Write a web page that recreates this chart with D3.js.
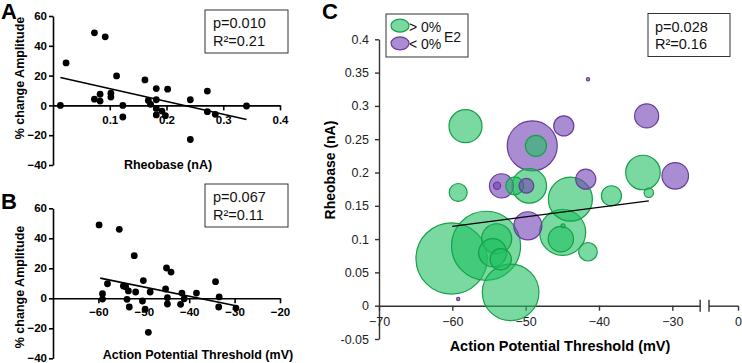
<!DOCTYPE html>
<html>
<head>
<meta charset="utf-8">
<script src="https://cdn.jsdelivr.net/npm/d3@7"></script>
<style>
body { margin: 0; background: #fff; }
svg { font-family: "Liberation Sans", Arial, sans-serif; }
.ab .tick text { font-weight: bold; font-size: 11.5px; fill: #000; }
.ab path, .ab line { stroke: #000; stroke-width: 1.6px; }
.cax .tick text { font-size: 12.5px; fill: #222; }
.cax path, .cax line { stroke: #333; stroke-width: 1.4px; }
</style>
</head>
<body>
<svg id="chart" width="742" height="363"></svg>
<script>
// panel A: rheobase (nA) vs % change amplitude
var rheoA = [0.013, 0.023, 0.073, 0.092, 0.073, 0.083, 0.083, 0.102, 0.102, 0.112, 0.123, 0.123, 0.162, 0.168,
    0.172, 0.182, 0.182, 0.182, 0.182, 0.192, 0.198, 0.202, 0.242, 0.242, 0.272, 0.272, 0.286, 0.341];
var ampA = [0, 28.5, 48.7, 46, 4.2, 7.5, 2.9, 8.2, 5.6, 19.8, 0, -7.8, 17.1, 3.3,
    0.7, 11.3, 3.8, -2, -6.4, -3.8, -6.9, 10.9, 3.8, -22.9, 9.6, -4.2, -6, -0.4];
var fitA = [19.8, -86];          // intercept, slope
var fitAx = [0.013, 0.341];
var statsA = ["p=0.010", "R²=0.21"];

// panel B: action potential threshold (mV) vs % change amplitude
var threshB = [-59.85, -55.4, -52.1, -59.1, -59.1, -58, -54.5, -54.0, -53.4, -53.7, -53.2, -51.8, -50.1, -50.3, -49.7,
    -49.0, -48.6, -45.2, -45.0, -44.0, -44.8, -44.8, -41.6, -41.9, -41.1, -38.4, -34.2, -33.4, -33.5, -29.7];
var ampB = [48.9, 46, 28.4, 3.1, -0.5, 9.7, 8.2, 7.7, 4.9, -0.7, -5.8, 4.2, 11.8, -1.8, -7.3,
    -22.7, 4.2, 6.2, 20.2, 17.5, 0.4, -3.8, 3.5, -4, -0.3, 3.5, 11.1, 0.9, -5.8, -6.5];
var fitB = [-23.2, -0.615];
var fitBx = [-59.6, -29.7];
var statsB = ["p=0.067", "R²=0.11"];

// panel C: bubbles, threshold vs rheobase, size = |% change|
var threshC = [-58.2, -49.1, -48.6, -41.5, -33.5, -44.8, -59.2, -53.3, -53.9, -51.5, -49.5, -49.9, -34.0, -29.6, -33.2,
    -41.8, -43.9, -38.3, -49.7, -44.95, -45.2, -44.9, -41.5, -60.1, -55.4, -53.95, -54.5, -53.4, -52.05, -59.2];
var rheoC = [0.2695, 0.24, 0.24, 0.34, 0.285, 0.27, 0.17, 0.18, 0.18, 0.18, 0.18, 0.18, 0.2, 0.195, 0.1695,
    0.19, 0.16, 0.165, 0.12, 0.11, 0.1, 0.12, 0.081, 0.071, 0.09, 0.1005, 0.0795, 0.0696, 0.02, 0.01];
var changeC = [10.5, -24.1, 4.3, -0.1, -5.6, -3.9, 3.1, -5.6, -0.5, 3.1, 11.5, -2.1, 11.5, -6.8, 0.85,
    -3.9, 18.7, 3.9, -7.6, 20.4, 6.2, 0.15, 3.3, 49, 46, 8.7, 7.6, 4.4, 30.9, -0.1];
var fitC = [0.2052, 0.001437];
var fitCx = [-60, -33.2];
var statsC = ["p=0.028", "R²=0.16"];
var legendC = ["> 0%", "< 0%"];

var svg = d3.select("#chart");

function drawScatter(xs, ys, fit, fitx, stats, opt) {
    var x = d3.scaleLinear().domain(opt.xdom).range([53, 280]);
    var y = d3.scaleLinear().domain([-40, 60]).range(opt.yrange);
    var g = svg.append("g").attr("class", "ab");

    g.append("g")
        .attr("transform", "translate(53,0)")
        .call(d3.axisLeft(y).tickValues([-40, -20, 0, 20, 40, 60]).tickSize(4).tickPadding(2).tickSizeOuter(0));
    g.append("g")
        .attr("transform", "translate(0," + y(0) + ")")
        .call(d3.axisBottom(x).tickValues(opt.xticks).tickFormat(opt.fmt).tickSize(5).tickPadding(5).tickSizeOuter(0));

    g.selectAll("circle.dot")
        .data(d3.range(xs.length))
        .enter().append("circle")
        .attr("class", "dot")
        .attr("cx", i => x(xs[i]))
        .attr("cy", i => y(ys[i]))
        .attr("r", 3.4)
        .attr("fill", "#000");

    g.append("line")
        .attr("x1", x(fitx[0])).attr("y1", y(fit[0] + fit[1] * fitx[0]))
        .attr("x2", x(fitx[1])).attr("y2", y(fit[0] + fit[1] * fitx[1]))
        .attr("stroke", "#000").attr("stroke-width", 1.5);

    // stats box
    var bx = 205, by = opt.boxTop;
    svg.append("rect").attr("x", bx).attr("y", by).attr("width", 83).attr("height", 43)
        .attr("fill", "#fff").attr("stroke", "#333").attr("stroke-width", 1);
    svg.selectAll(null).data(stats).enter().append("text")
        .attr("x", bx + 8).attr("y", (d, i) => by + 18 + i * 17.5)
        .attr("font-size", "14.5px").attr("fill", "#111").text(d => d);

    // titles
    svg.append("text").attr("x", 1).attr("y", opt.letterY).attr("font-size", "22px")
        .attr("font-weight", "bold").text(opt.letter);
    svg.append("text")
        .attr("transform", "translate(24," + opt.ylabY + ") rotate(-90)")
        .attr("text-anchor", "middle").attr("font-size", "12.5px").attr("font-weight", "bold")
        .text("% change Amplitude");
    svg.append("text").attr("x", opt.xlabX).attr("y", opt.xlabY).attr("text-anchor", "middle")
        .attr("font-size", "12.5px").attr("font-weight", "bold").text(opt.xlab);
}

drawScatter(rheoA, ampA, fitA, fitAx, statsA, {
    xdom: [0, 0.4], yrange: [165, 16], xticks: [0.1, 0.2, 0.3, 0.4], fmt: d3.format(".1f"),
    boxTop: 10, letter: "A", letterY: 19, ylabY: 78, xlab: "Rheobase (nA)", xlabX: 168, xlabY: 169
});
drawScatter(threshB, ampB, fitB, fitBx, statsB, {
    xdom: [-70, -20], yrange: [358.3, 208.3], xticks: [-60, -50, -40, -30, -20], fmt: d3.format("d"),
    boxTop: 184, letter: "B", letterY: 209, ylabY: 287, xlab: "Action Potential Threshold (mV)", xlabX: 198, xlabY: 359
});

// ---- panel C ----
var xC = d3.scaleLinear().domain([-70, -30]).range([379, 672.3]);
var xC0 = d3.scaleLinear().domain([-4, 0]).range([709, 738]);
var yC = d3.scaleLinear().domain([-0.05, 0.4]).range([339, 39.3]);
var rC = d3.scaleSqrt().domain([0, 50]).range([0, 36]);
var gC = svg.append("g").attr("class", "cax");

gC.append("g").attr("transform", "translate(379,0)")
    .call(d3.axisLeft(yC).tickValues(d3.range(-0.05, 0.401, 0.05)).tickFormat(d => String(+d.toFixed(2)))
        .tickSize(4).tickPadding(6).tickSizeOuter(0));
var xAx = gC.append("g").attr("transform", "translate(0," + yC(0) + ")")
    .call(d3.axisBottom(xC).tickValues([-70, -60, -50, -40, -30]).tickFormat(d3.format("d"))
        .tickSize(5).tickPadding(6).tickSizeOuter(0));
xAx.select(".domain").attr("d", "M379,0.5H" + xC(-26.2));
var xAx0 = gC.append("g").attr("transform", "translate(0," + yC(0) + ")")
    .call(d3.axisBottom(xC0).tickValues([0]).tickFormat(d3.format("d")).tickSize(5).tickPadding(6).tickSizeOuter(0));
xAx0.select(".domain").attr("d", "M709,0.5H738");
// axis break marks
[xC(-26.2), 709].forEach(bx => {
    gC.append("line").attr("x1", bx).attr("x2", bx).attr("y1", yC(0) - 6).attr("y2", yC(0) + 6)
        .attr("stroke", "#333").attr("stroke-width", 1.4);
});

var bubbles = d3.range(threshC.length).sort((a, b) => Math.abs(changeC[b]) - Math.abs(changeC[a]));
svg.append("g").selectAll("circle")
    .data(bubbles)
    .enter().append("circle")
    .attr("cx", i => xC(threshC[i]))
    .attr("cy", i => yC(rheoC[i]))
    .attr("r", i => rC(Math.abs(changeC[i])))
    .attr("fill", i => changeC[i] > 0 ? "#20c060" : "#713fb4")
    .attr("fill-opacity", 0.6)
    .attr("stroke", i => changeC[i] > 0 ? "#16a047" : "#6a3d9a")
    .attr("stroke-width", 1.2);

svg.append("line")
    .attr("x1", xC(fitCx[0])).attr("y1", yC(fitC[0] + fitC[1] * fitCx[0]))
    .attr("x2", xC(fitCx[1])).attr("y2", yC(fitC[0] + fitC[1] * fitCx[1]))
    .attr("stroke", "#000").attr("stroke-width", 1.3);

// legend
svg.append("rect").attr("x", 386).attr("y", 14).attr("width", 82).attr("height", 43)
    .attr("fill", "#fff").attr("stroke", "#333").attr("stroke-width", 1);
svg.selectAll(null).data(legendC).enter().append("ellipse")
    .attr("cx", 400).attr("cy", (d, i) => 25.7 + i * 17.6).attr("rx", 9).attr("ry", 6.5)
    .attr("fill", (d, i) => i ? "#713fb4" : "#20c060").attr("fill-opacity", 0.6)
    .attr("stroke", (d, i) => i ? "#6a3d9a" : "#16a047").attr("stroke-width", 1.2);
svg.selectAll(null).data(legendC).enter().append("text")
    .attr("x", 409).attr("y", (d, i) => 31.5 + i * 17.6).attr("font-size", "14px").attr("fill", "#111")
    .text(d => d);
svg.append("text").attr("x", 444).attr("y", 42).attr("font-size", "14px").attr("fill", "#111").text("E2");

// stats box C
svg.append("rect").attr("x", 648).attr("y", 13.5).attr("width", 82).attr("height", 43)
    .attr("fill", "#fff").attr("stroke", "#333").attr("stroke-width", 1);
svg.selectAll(null).data(statsC).enter().append("text")
    .attr("x", 655).attr("y", (d, i) => 31.5 + i * 17.5)
    .attr("font-size", "14.5px").attr("fill", "#111").text(d => d);

svg.append("text").attr("x", 322).attr("y", 19).attr("font-size", "22px").attr("font-weight", "bold").text("C");
svg.append("text")
    .attr("transform", "translate(335,170) rotate(-90)")
    .attr("text-anchor", "middle").attr("font-size", "14px").attr("font-weight", "bold")
    .text("Rheobase (nA)");
svg.append("text").attr("x", 560).attr("y", 351).attr("text-anchor", "middle")
    .attr("font-size", "14.5px").attr("font-weight", "bold").text("Action Potential Threshold (mV)");
</script>
</body>
</html>
